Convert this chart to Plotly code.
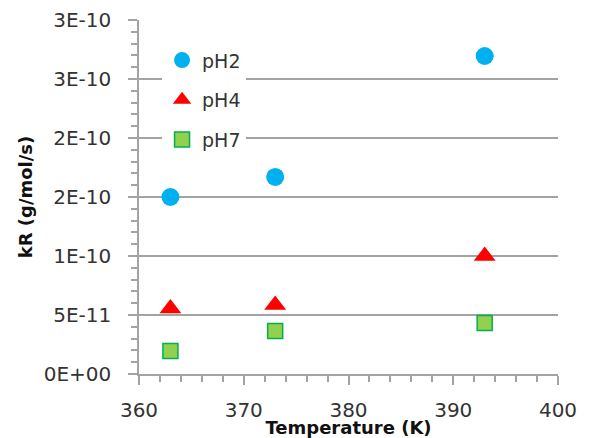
import plotly.graph_objects as go

temps = [363, 373, 393]
ph2 = [1.50e-10, 1.67e-10, 2.695e-10]
ph4 = [0.555e-10, 0.585e-10, 1.0e-10]
ph7 = [1.95e-11, 3.64e-11, 4.32e-11]

ytick_vals = [0, 0.5e-10, 1.0e-10, 1.5e-10, 2.0e-10, 2.5e-10, 3.0e-10]
ytick_text = ["0E+00", "5E-11", "1E-10", "2E-10", "2E-10", "3E-10", "3E-10"]
xtick_vals = [360, 370, 380, 390, 400]

FONT = "DejaVu Sans"
GRID = "#a3a3a3"

fig = go.Figure()
fig.add_trace(go.Scatter(x=temps, y=ph2, mode="markers", name="pH2", legendgroup="a",
                         marker=dict(symbol="circle", size=18, color="#00b0f0",
                                     line=dict(width=0))))
fig.add_trace(go.Scatter(x=temps, y=ph4, mode="markers", name="pH4", legendgroup="b",
                         marker=dict(symbol="triangle-up", size=19, color="#ff0000",
                                     line=dict(width=0))))
fig.add_trace(go.Scatter(x=temps, y=ph7, mode="markers", name="pH7", legendgroup="c",
                         marker=dict(symbol="square", size=15, color="#92d050",
                                     line=dict(width=1.5, color="#00b050"))))

fig.update_layout(
    width=582, height=430,
    margin=dict(l=131, r=32, t=12, b=64),
    paper_bgcolor="white", plot_bgcolor="white",
    font=dict(family=FONT, size=20, color="#333333"),
    showlegend=True,
    legend=dict(x=0.055, y=0.94, xanchor="left", yanchor="top",
                bgcolor="white", borderwidth=0, entrywidth=62,
                font=dict(family=FONT, size=19, color="#333333"),
                tracegroupgap=12, traceorder="grouped"),
    xaxis=dict(range=[360, 400], tickvals=xtick_vals, ticks="outside", ticklen=9,
               tickcolor=GRID, tickwidth=1.5, showline=True, linecolor=GRID, linewidth=1.5,
               showgrid=False, zeroline=False, ticklabelstandoff=8, automargin=False,
               tickfont=dict(family=FONT, size=20, color="#333333"),
               minor=dict(ticks="outside", dtick=2, ticklen=6, tickcolor=GRID, tickwidth=1.5),
               title=dict(text="<b>Temperature (K)</b>", standoff=1,
                          font=dict(family=FONT, size=18, color="#111111"))),
    yaxis=dict(range=[0, 3.0e-10], tickvals=ytick_vals, ticktext=ytick_text,
               ticks="outside", ticklen=9, tickcolor=GRID, tickwidth=1.5,
               showline=True, linecolor=GRID, linewidth=1.5, ticklabelstandoff=13,
               showgrid=True, gridcolor=GRID, gridwidth=1.5, zeroline=False,
               automargin=False,
               tickfont=dict(family=FONT, size=20, color="#333333"),
               minor=dict(ticks="outside", dtick=1e-11, tick0=0, ticklen=6,
                          tickcolor=GRID, tickwidth=1.5, showgrid=False),
               title=dict(text="<b>kR (g/mol/s)</b>", standoff=6,
                          font=dict(family=FONT, size=18, color="#111111"))),
)

fig.write_html("out.html")
